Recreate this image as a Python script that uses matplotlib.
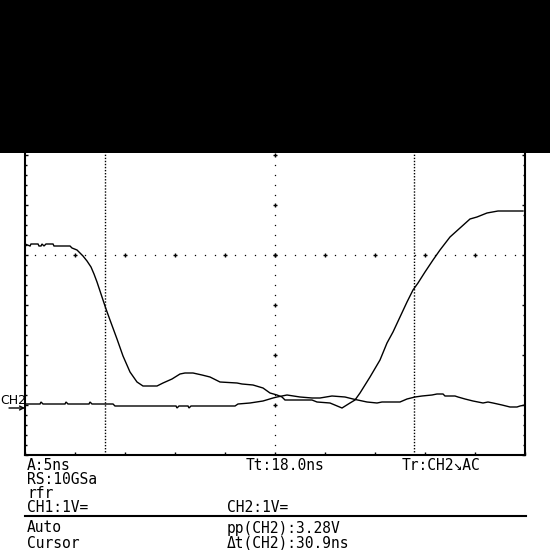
import matplotlib
matplotlib.use("Agg")
import matplotlib.pyplot as plt
import numpy as np
from matplotlib.patches import Rectangle
from matplotlib.lines import Line2D
from matplotlib.ticker import MultipleLocator

# ---- data (time in ns relative to screen centre, amplitude in V) ----
trace1_t = [-25.0, -24.5, -24.4, -23.7, -23.6, -23.4, -23.3, -23.1, -22.9, -22.2, -22.1, -20.5,
            -20.3, -19.8, -19.5, -19.2, -18.8, -18.4, -18.1, -17.8, -17.5, -17.2, -16.9, -16.5,
            -15.8, -15.2, -14.5, -13.8, -13.2, -11.8, -11.2, -10.3, -9.5, -9.0, -8.2, -7.3,
            -6.5, -5.5, -3.8, -3.3, -2.2, -1.2, -0.5, 0.2, 0.7, 1.0, 3.7, 4.2, 5.5, 6.7, 7.5,
            8.0, 8.5, 9.0, 9.5, 10.5, 11.2, 11.8, 12.5, 13.2, 13.8, 14.3, 15.0, 15.8, 16.5,
            17.5, 18.5, 19.5, 20.2, 21.2, 22.3, 24.8]
trace1_v = [0.22, 0.18, 0.22, 0.22, 0.18, 0.18, 0.22, 0.18, 0.22, 0.22, 0.18, 0.18,
            0.14, 0.10, 0.04, -0.02, -0.12, -0.24, -0.38, -0.54, -0.72, -0.90, -1.08, -1.30,
            -1.68, -2.02, -2.34, -2.54, -2.62, -2.62, -2.56, -2.48, -2.38, -2.36, -2.36, -2.40,
            -2.44, -2.54, -2.56, -2.58, -2.60, -2.66, -2.76, -2.80, -2.84, -2.90, -2.90, -2.94,
            -2.96, -3.06, -2.96, -2.90, -2.76, -2.60, -2.44, -2.10, -1.76, -1.54, -1.24, -0.94,
            -0.70, -0.56, -0.34, -0.10, 0.10, 0.36, 0.54, 0.72, 0.76, 0.84, 0.88, 0.88]

trace2_t = [-25.0, -23.5, -23.4, -23.2, -21.0, -20.9, -20.7, -18.6, -18.5, -18.3, -16.2, -16.0,
            -9.9, -9.8, -9.6, -8.7, -8.6, -8.4, -4.0, -3.7, -2.5, -1.2, -0.2, 0.2, 1.2, 2.5,
            3.7, 4.5, 5.7, 7.0, 7.8, 9.2, 10.2, 10.7, 12.5, 13.2, 14.0, 14.7, 15.7, 16.2, 16.8,
            17.0, 18.0, 18.3, 19.0, 19.8, 20.8, 21.3, 21.8, 22.7, 23.5, 24.2, 24.5, 25.0]
trace2_v = [-2.98, -2.98, -2.94, -2.98, -2.98, -2.94, -2.98, -2.98, -2.94, -2.98, -2.98, -3.02,
            -3.02, -3.06, -3.02, -3.02, -3.06, -3.02, -3.02, -2.98, -2.96, -2.92, -2.86, -2.84,
            -2.80, -2.84, -2.86, -2.86, -2.82, -2.84, -2.88, -2.94, -2.96, -2.94, -2.94, -2.88,
            -2.84, -2.82, -2.80, -2.78, -2.78, -2.82, -2.82, -2.84, -2.88, -2.92, -2.96, -2.94,
            -2.96, -3.00, -3.04, -3.04, -3.02, -3.00]

cursor_t = [-17.0, 13.9]
ch2_ground = -3.06

status_left = ["A:5ns", "RS:10GSa", "rfr", "CH1:1V=", "Auto", "Cursor"]
status_mid = ["Tt:18.0ns", "", "", "CH2:1V=", "pp(CH2):3.28V", "\u0394t(CH2):30.9ns"]
status_right = ["Tr:CH2\u2198AC", "", "", "", "", ""]

# ---- figure ----
W = H = 550
fig = plt.figure(figsize=(5.5, 5.5), dpi=100, facecolor="white")
ax = fig.add_axes([25 / W, 1 - 455 / H, 500 / W, 400 / H])
ax.set_xlim(-25, 25)
ax.set_ylim(-4, 4)
ax.set_facecolor("white")
for s in ["left", "right", "bottom"]:
    ax.spines[s].set_linewidth(1.5)
    ax.spines[s].set_color("black")
ax.spines["top"].set_visible(False)

# border ticks
ax.yaxis.set_major_locator(MultipleLocator(1))
ax.yaxis.set_minor_locator(MultipleLocator(0.2))
ax.xaxis.set_major_locator(MultipleLocator(5))
ax.tick_params(axis="y", which="major", direction="in", length=2.5, width=1,
               left=True, right=True, labelleft=False)
ax.tick_params(axis="y", which="minor", direction="in", length=1.3, width=1,
               left=True, right=True)
ax.tick_params(axis="x", which="major", direction="in", length=2.2, width=1,
               bottom=True, top=False, labelbottom=False)
ax.tick_params(axis="x", which="minor", bottom=False)

# centre graticule: dots every minor step, crosses every division
xd = np.arange(-25, 25.01, 1.0)
ax.plot(xd, np.zeros_like(xd), ls="none", marker="s", ms=0.9, mew=0, color="black")
xc = np.arange(-20, 20.01, 5.0)
ax.plot(xc, np.zeros_like(xc), ls="none", marker="+", ms=3.2, mew=1.0, color="black")
yd = np.arange(-4, 4.01, 0.2)
ax.plot(np.zeros_like(yd), yd, ls="none", marker="s", ms=0.9, mew=0, color="black")
yc = np.arange(-3, 3.01, 1.0)
ax.plot(np.zeros_like(yc), yc, ls="none", marker="+", ms=3.2, mew=1.0, color="black")

# cursors
for ct in cursor_t:
    ax.axvline(ct, color="black", lw=1.0, ls=(0, (1, 1.2)))

# traces
ax.plot(trace1_t, trace1_v, color="black", lw=1.0, solid_joinstyle="miter")
ax.plot(trace2_t, trace2_v, color="black", lw=1.0, solid_joinstyle="miter")

# channel ground marker
ax.annotate("", xy=(-25, ch2_ground), xytext=(-16, 0), textcoords="offset pixels",
            arrowprops=dict(arrowstyle="->", color="black", lw=1.0,
                            shrinkA=0, shrinkB=0, mutation_scale=7),
            annotation_clip=False)
fig.text(0 / W, 1 - 400 / H, "CH2", fontsize=9, family="DejaVu Sans",
         ha="left", va="center", color="black")

# black banner on top
fig.add_artist(Rectangle((0, 1 - 153 / H), 1, 153 / H, transform=fig.transFigure,
                         facecolor="black", edgecolor="none", zorder=10))

# status area
fig.add_artist(Line2D([25 / W, 526 / W], [1 - 516 / H, 1 - 516 / H],
                      transform=fig.transFigure, color="black", lw=1.5))
rows_y = [465, 480, 494, 508, 528, 543]
mono = dict(family="DejaVu Sans Mono", fontsize=10.5, ha="left", va="center", color="black")
for i, yy in enumerate(rows_y):
    if status_left[i]:
        fig.text(27 / W, 1 - yy / H, status_left[i], **mono)
    if status_mid[i]:
        xm = 246 if i == 0 else 227
        fig.text(xm / W, 1 - yy / H, status_mid[i], **mono)
    if status_right[i]:
        fig.text(402 / W, 1 - yy / H, status_right[i], **mono)

fig.savefig("out.png", dpi=100, facecolor="white")
